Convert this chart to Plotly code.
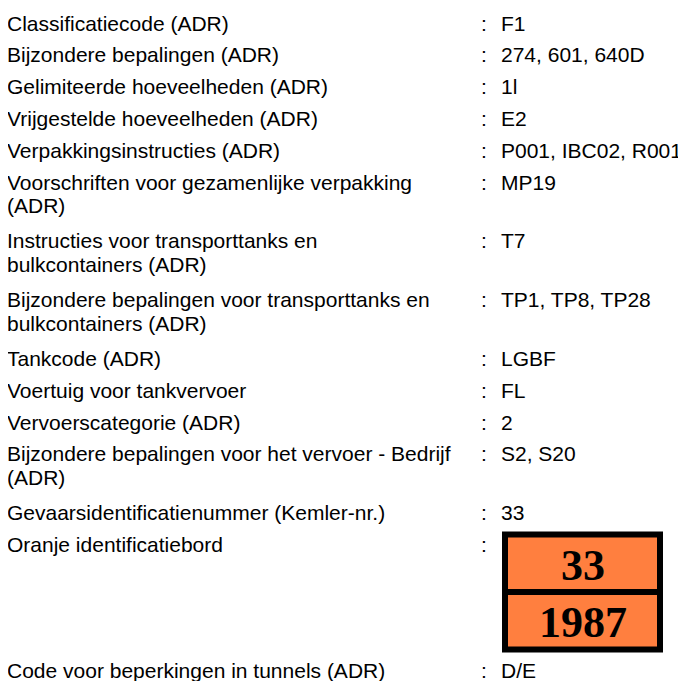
import plotly.graph_objects as go

# ---- data -------------------------------------------------------------
heading = "Wegtransport"
labels = [
    "Classificatiecode (ADR)",
    "Bijzondere bepalingen (ADR)",
    "Gelimiteerde hoeveelheden (ADR)",
    "Vrijgestelde hoeveelheden (ADR)",
    "Verpakkingsinstructies (ADR)",
    "Voorschriften voor gezamenlijke verpakking|(ADR)",
    "Instructies voor transporttanks en|bulkcontainers (ADR)",
    "Bijzondere bepalingen voor transporttanks en|bulkcontainers (ADR)",
    "Tankcode (ADR)",
    "Voertuig voor tankvervoer",
    "Vervoerscategorie (ADR)",
    "Bijzondere bepalingen voor het vervoer - Bedrijf|(ADR)",
    "Gevaarsidentificatienummer (Kemler-nr.)",
    "Oranje identificatiebord",
    "Code voor beperkingen in tunnels (ADR)",
]
values = [
    "F1", "274, 601, 640D", "1l", "E2", "P001, IBC02, R001", "MP19", "T7",
    "TP1, TP8, TP28", "LGBF", "FL", "2", "S2, S20", "33", None, "D/E",
]
kemler_number = "33"
un_number = "1987"

# ---- styling / layout constants ----------------------------------------
W, H = 686, 681
OFF = 8  # page body margin compensation
FONT = "Liberation Sans, Arial, sans-serif"
SERIF = "Liberation Serif, Times New Roman, serif"
FS = 21
TEXT_COL = "#000000"
BLUE = "#0070C0"
ORANGE = "#FF7F3F"
X_LABEL, X_COLON, X_VALUE = 5, 479, 499
SIGN_X = 502
FIRST_Y = 23
PITCH = 31.8
WRAP = 23.5
WRAP_EXTRA = 27
SIGN_W, SIGN_H = 161, 121

fig = go.Figure()
annotations = []
shapes = []


def txt(x, y, s, size=FS, color=TEXT_COL, family=FONT, xanchor="left", bold=False):
    xs = ys = 0
    if x < OFF:
        xs, x = x - OFF, OFF
    if y < OFF:
        ys, y = OFF - y, OFF
    annotations.append(dict(
        x=x, y=y, xref="x", yref="y", xshift=xs, yshift=ys,
        text=f"<b>{s}</b>" if bold else s,
        showarrow=False, xanchor=xanchor, yanchor="middle",
        font=dict(family=family, size=size, color=color)))


# cut-off heading at the very top
txt(18, -8, heading, color=BLUE, bold=True)

y = FIRST_Y
for lab, val in zip(labels, values):
    lines = lab.split("|")
    for j, line in enumerate(lines):
        txt(X_LABEL, y + j * WRAP, line)
    txt(X_COLON, y, ":")
    if val is not None:
        txt(X_VALUE, y, val)
        y += PITCH + (len(lines) - 1) * WRAP_EXTRA
    else:
        # orange identification plate
        top = y - 13
        x0, x1 = SIGN_X, SIGN_X + SIGN_W
        y0, y1 = top, top + SIGN_H
        b = 6
        mid = (y0 + y1) / 2
        shapes.append(dict(type="rect", xref="x", yref="y", x0=x0, x1=x1, y0=y0, y1=y1,
                           fillcolor="black", line=dict(width=0), layer="below"))
        shapes.append(dict(type="rect", xref="x", yref="y", x0=x0 + b, x1=x1 - b,
                           y0=y0 + b, y1=mid - b / 2, fillcolor=ORANGE, line=dict(width=0),
                           layer="below"))
        shapes.append(dict(type="rect", xref="x", yref="y", x0=x0 + b, x1=x1 - b,
                           y0=mid + b / 2, y1=y1 - b, fillcolor=ORANGE, line=dict(width=0),
                           layer="below"))
        cx = (x0 + x1) / 2
        txt(cx, (y0 + b + mid - b / 2) / 2 + 2, kemler_number, size=44, family=SERIF,
            xanchor="center", bold=True)
        txt(cx, (mid + b / 2 + y1 - b) / 2 + 2, un_number, size=44, family=SERIF,
            xanchor="center", bold=True)
        y = y1 + 18

fig.update_layout(
    width=W - OFF, height=H - OFF, margin=dict(l=0, r=0, t=0, b=0),
    paper_bgcolor="white", plot_bgcolor="white",
    xaxis=dict(range=[OFF, W], visible=False, fixedrange=True),
    yaxis=dict(range=[H, OFF], visible=False, fixedrange=True),
    annotations=annotations, shapes=shapes, showlegend=False,
)
fig.write_html("out.html")
